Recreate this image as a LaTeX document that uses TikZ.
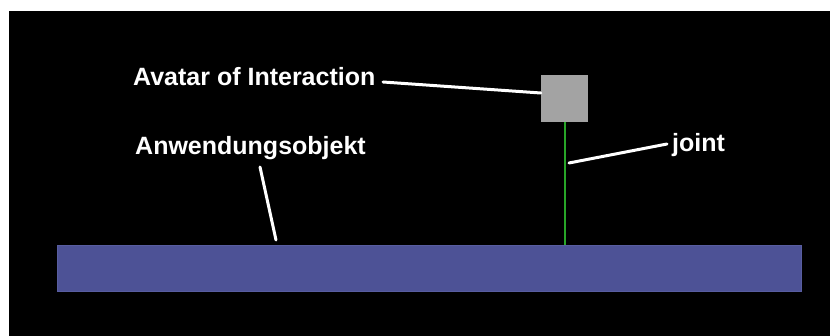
\documentclass[tikz,border=0pt]{standalone}
\usepackage{fontspec}
\setmainfont{Liberation Sans}
\definecolor{barblue}{RGB}{77,82,150}
\definecolor{baredge}{RGB}{88,93,160}
\definecolor{boxgray}{RGB}{163,163,163}
\definecolor{jointgreen}{RGB}{40,165,40}
\tikzset{
  lbl/.style={text=white, font=\fontsize{25}{30}\selectfont\bfseries, inner sep=0pt, anchor=base west},
  leader/.style={draw=white, line width=3pt, line cap=round},
}
\begin{document}
\begin{tikzpicture}[x=1pt,y=-1pt]
\useasboundingbox (0,0) rectangle (830,336);
\fill[white] (0,0) rectangle (830,336);
\fill[black] (9,11) rectangle (830,336);
% objects
\node (bar) [draw=baredge, fill=barblue, line width=1pt, inner sep=0pt, minimum width=744pt, minimum height=46pt] at (429.5,268.75) {};
\node (avatar) [fill=boxgray, inner sep=0pt, minimum width=47pt, minimum height=47pt] at (564.5,98.5) {};
\draw[jointgreen, line width=2pt] (avatar.south) -- (avatar.south |- bar.north);
% labels
\node (lavatar) [lbl] at (133,86) {Avatar of Interaction};
\node (lanw) [lbl] at (135,155) {Anwendungsobjekt};
\node (ljoint) [lbl] at (672,152) {joint};
% leader lines
\coordinate (a1) at (383,82);
\coordinate (a2) at (avatar.west |- 0,93);
\draw[leader] (a1) -- (a2);
\coordinate (b1) at (260,167);
\coordinate (b2) at (276,240);
\draw[leader] (b1) -- (b2);
\coordinate (j1) at (667,144);
\coordinate (j2) at (569,163);
\draw[leader] (j1) -- (j2);
\end{tikzpicture}
\end{document}
